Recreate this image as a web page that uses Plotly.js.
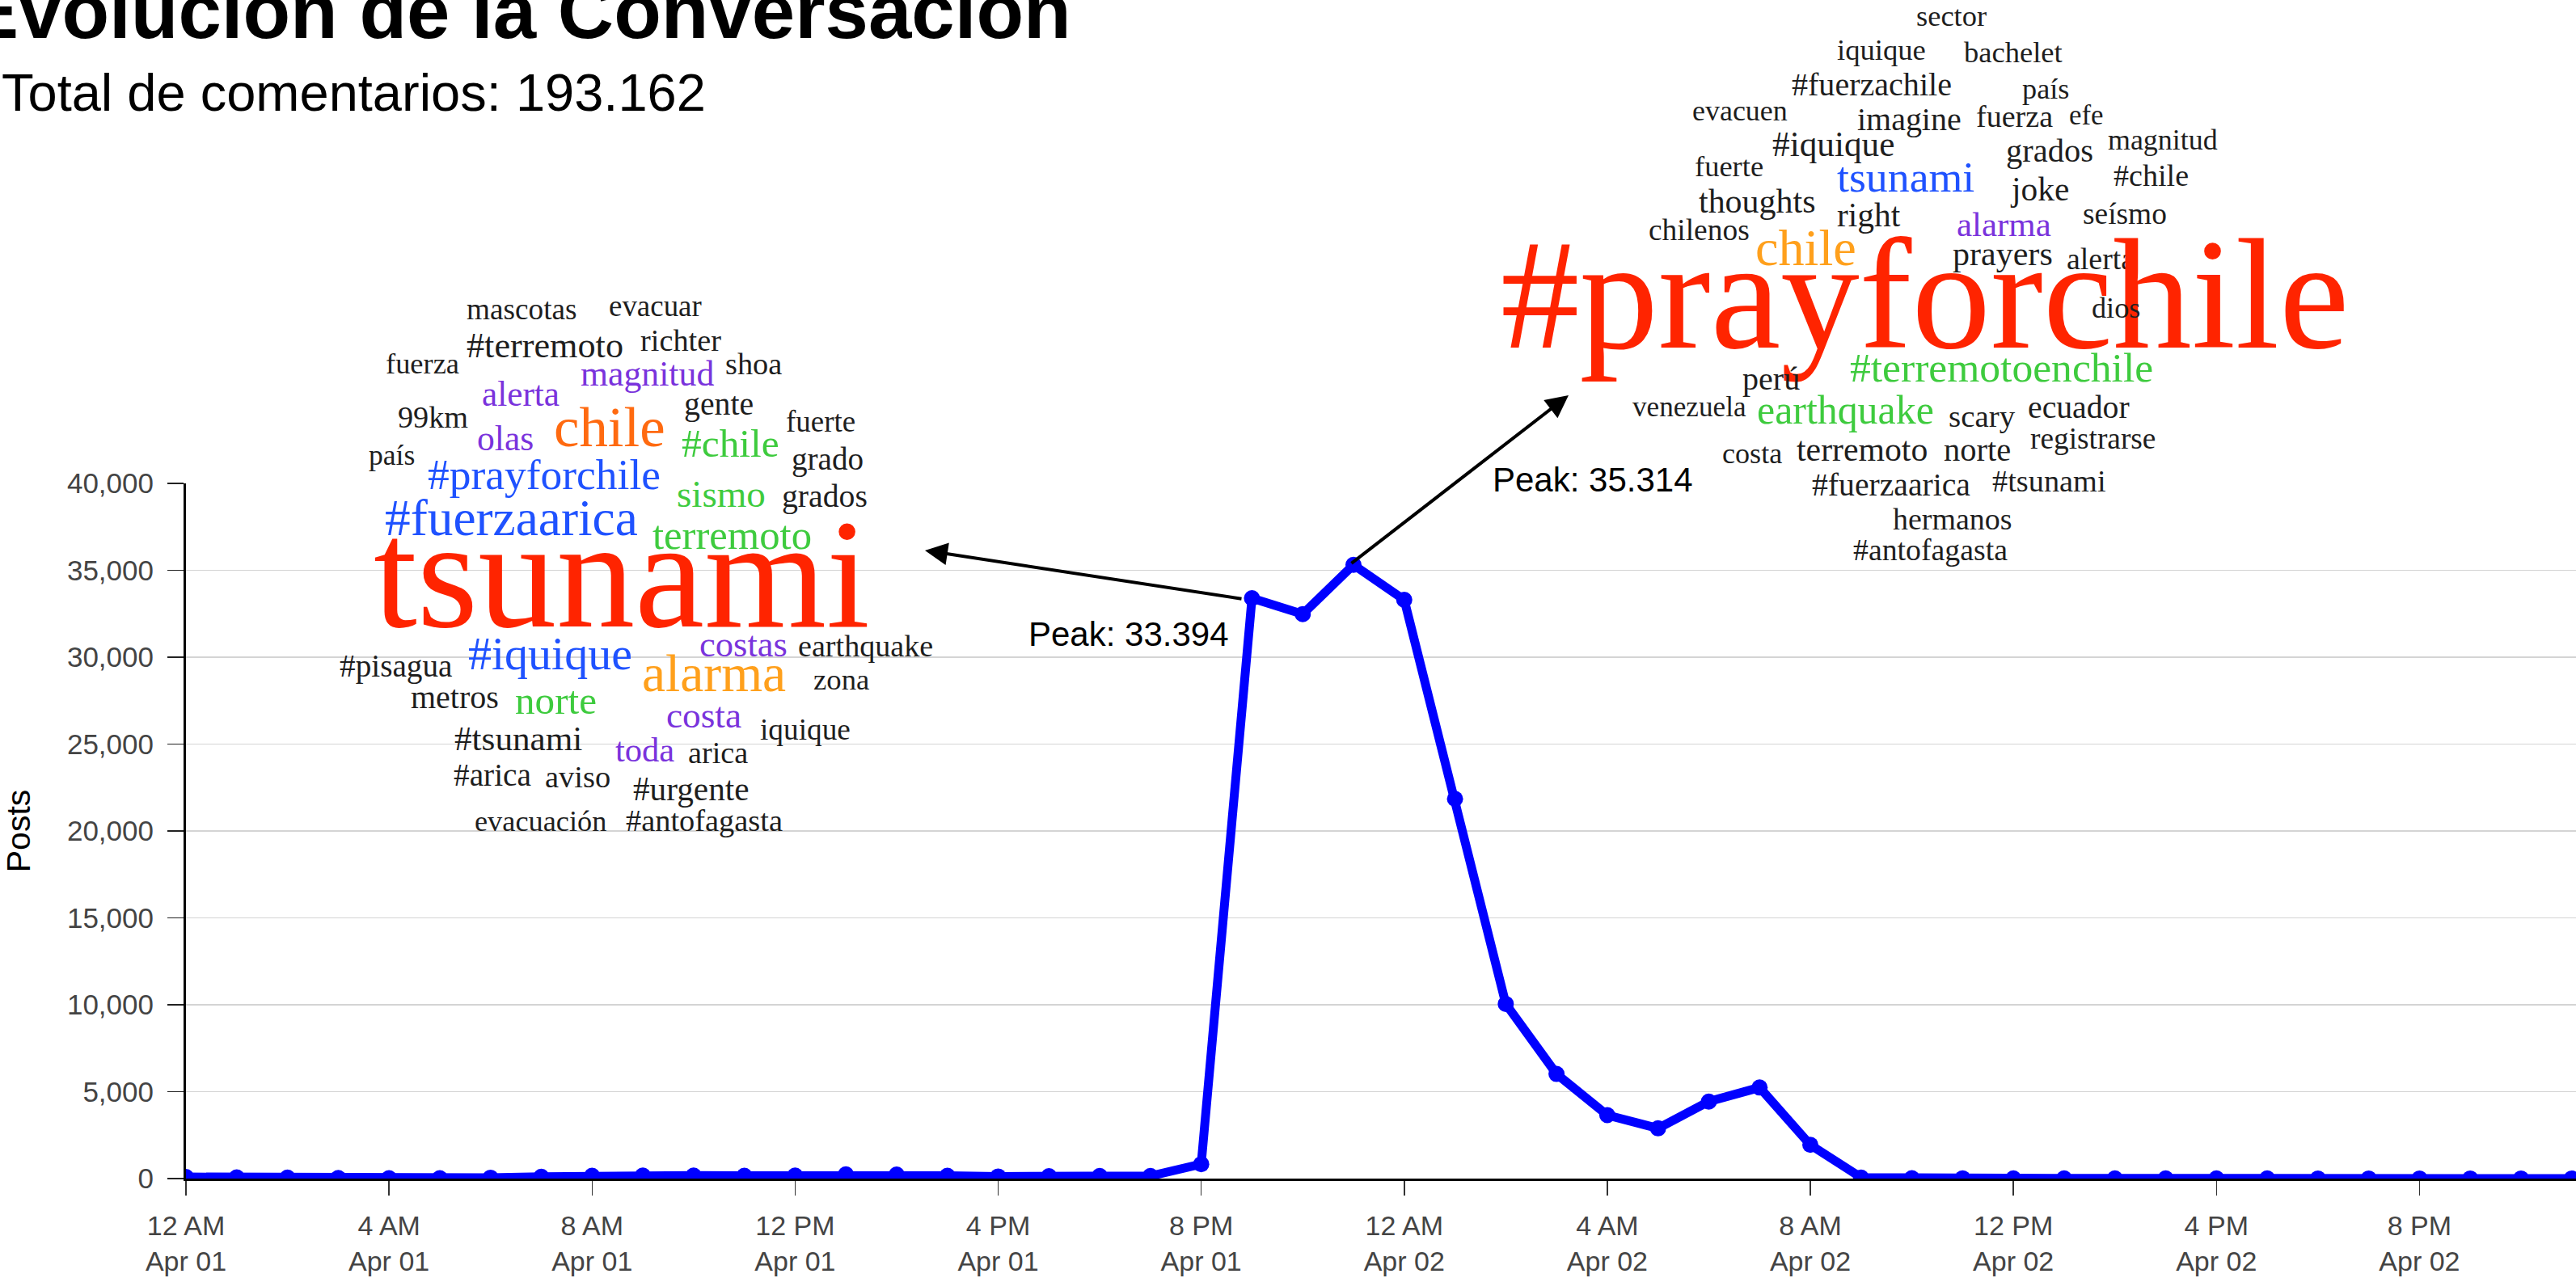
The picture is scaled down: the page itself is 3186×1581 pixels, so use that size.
<!DOCTYPE html>
<html>
<head>
<meta charset="utf-8">
<script src="https://cdn.plot.ly/plotly-3.0.1.min.js"></script>
<style>html,body{margin:0;padding:0;background:#fff;}#chart{width:3186px;height:1581px;}</style>
</head>
<body>
<div id="chart"></div>
<script>
// ---------------- DATA ----------------
const hours = [
 '2014-04-01 00:00','2014-04-01 01:00','2014-04-01 02:00','2014-04-01 03:00','2014-04-01 04:00','2014-04-01 05:00',
 '2014-04-01 06:00','2014-04-01 07:00','2014-04-01 08:00','2014-04-01 09:00','2014-04-01 10:00','2014-04-01 11:00',
 '2014-04-01 12:00','2014-04-01 13:00','2014-04-01 14:00','2014-04-01 15:00','2014-04-01 16:00','2014-04-01 17:00',
 '2014-04-01 18:00','2014-04-01 19:00','2014-04-01 20:00','2014-04-01 21:00','2014-04-01 22:00','2014-04-01 23:00',
 '2014-04-02 00:00','2014-04-02 01:00','2014-04-02 02:00','2014-04-02 03:00','2014-04-02 04:00','2014-04-02 05:00',
 '2014-04-02 06:00','2014-04-02 07:00','2014-04-02 08:00','2014-04-02 09:00','2014-04-02 10:00','2014-04-02 11:00',
 '2014-04-02 12:00','2014-04-02 13:00','2014-04-02 14:00','2014-04-02 15:00','2014-04-02 16:00','2014-04-02 17:00',
 '2014-04-02 18:00','2014-04-02 19:00','2014-04-02 20:00','2014-04-02 21:00','2014-04-02 22:00','2014-04-02 23:00'
];
const posts = [
 90, 70, 60, 30, 20, 25, 50, 100, 160, 170, 170, 165,
 170, 240, 230, 160, 120, 140, 150, 150, 830, 33394, 32480, 35314,
 33300, 21850, 10050, 6020, 3650, 2890, 4430, 5240, 1940, 60, 20, 15,
 10, 10, 8, 8, 6, 6, 5, 5, 4, 4, 3, 3
];
const titleText = 'Evolución de la Conversación';
const subtitleText = 'Total de comentarios: 193.162';
const yTitle = 'Posts';
const peakLabels = ['Peak: 33.394', 'Peak: 35.314'];

const cloud1Words = ['mascotas','evacuar','#terremoto','richter','fuerza','shoa','magnitud','alerta','99km','gente',
 'chile','olas','fuerte','#chile','país','grado','#prayforchile','sismo','grados','#fuerzaarica','terremoto','tsunami',
 '#pisagua','#iquique','costas','earthquake','alarma','zona','metros','norte','costa','iquique','#tsunami','toda',
 'arica','#arica','aviso','#urgente','evacuación','#antofagasta'];
const cloud2Words = ['sector','iquique','bachelet','#fuerzachile','país','evacuen','imagine','fuerza','efe','#iquique',
 'grados','magnitud','fuerte','tsunami','#chile','joke','thoughts','right','alarma','seísmo','chilenos','chile','prayers',
 'alerta','#prayforchile','dios','#terremotoenchile','perú','venezuela','earthquake','scary','ecuador','registrarse',
 'costa','terremoto','norte','#fuerzaarica','#tsunami','hermanos','#antofagasta'];

// ---------------- LAYOUT / STYLE ----------------
// word placement: [centre x px, baseline y px, width px, colour key]
const cloud1Place = [
 [645,395,138,'k'],[810,391,116,'k'],[674,442,196,'k'],[842,434,101,'k'],[522,462,92,'k'],[932,463,71,'k'],
 [800,477,167,'p'],[644,502,97,'p'],[535,529,88,'k'],[889,513,87,'k'],[754,552,139,'o1'],[625,557,71,'p'],
 [1015,534,87,'k'],[903,565,122,'g'],[484,575,58,'k'],[1023,581,90,'k'],[673,605,291,'b'],[892,627,111,'g'],
 [1020,627,107,'k'],[632,662,316,'b'],[905,679,199,'g'],[769,775,620,'r'],[490,837,141,'k'],[680,828,205,'b'],
 [919,812,110,'p'],[1070,812,169,'k'],[883,855,180,'o2'],[1040,853,70,'k'],[562,876,110,'k'],[687,883,102,'g'],
 [870,900,94,'p'],[996,915,113,'k'],[641,928,160,'k'],[797,942,74,'p'],[888,944,75,'k'],[609,972,97,'k'],
 [714,974,82,'k'],[855,990,145,'k'],[668,1028,165,'k'],[871,1028,196,'k']
];
const cloud2Place = [
 [2413,32,88,'k'],[2327,74,111,'k'],[2490,77,123,'k'],[2315,118,200,'k'],[2530,122,59,'k'],[2152,149,119,'k'],
 [2361,161,130,'k'],[2491,157,96,'k'],[2580,154,43,'k'],[2267,193,153,'k'],[2535,200,109,'k'],[2675,185,137,'k'],
 [2138,218,86,'k'],[2357,237,172,'b'],[2660,230,94,'k'],[2522,248,72,'k'],[2173,263,146,'k'],[2311,280,79,'k'],
 [2478,292,118,'p'],[2628,277,105,'k'],[2101,297,126,'k'],[2233,328,126,'o2'],[2477,328,125,'k'],[2598,333,85,'k'],
 [2380,430,1060,'r'],[2617,393,61,'k'],[2475,472,379,'g'],[2190,482,72,'k'],[2089,515,142,'k'],[2282,524,221,'g'],
 [2451,528,83,'k'],[2571,517,127,'k'],[2588,555,157,'k'],[2167,573,75,'k'],[2303,570,164,'k'],[2445,570,84,'k'],
 [2339,613,198,'k'],[2534,608,142,'k'],[2415,655,149,'k'],[2387,693,193,'k']
];
const palette = {k:'#1e1e1e', r:'#ff2400', b:'#1f52ff', g:'#3ecb3e', p:'#7a33dc', o1:'#ff6a10', o2:'#ffa01c'};

const W_PX = 3186, H_PX = 1581;
const L = 230, Rr = 3186, T = 598, B = 1458;
const PW = Rr - L, PH = B - T;
const px = X => (X - L) / PW;
const py = Y => (B - Y) / PH;

const SERIF = 'Liberation Serif';
const SANS = 'Liberation Sans, Arial, Helvetica, sans-serif';
const cv = document.createElement('canvas').getContext('2d');
function fitSize(txt, w) {
  cv.font = '100px "' + SERIF + '"';
  return 100 * w / cv.measureText(txt).width;
}

const annotations = [];
function addCloud(words, place) {
  words.forEach((w, i) => {
    const p = place[i];
    const F = fitSize(w, p[2]) * 0.99;
    annotations.push({
      xref: 'paper', yref: 'paper', x: px(p[0]), y: py(p[1] - 0.3375 * F),
      xanchor: 'center', yanchor: 'middle', showarrow: false, text: w, borderpad: 0,
      font: {family: SERIF, size: F, color: palette[p[3]]}
    });
  });
}
addCloud(cloud1Words, cloud1Place);
addCloud(cloud2Words, cloud2Place);

// title & subtitle
annotations.push({xref:'paper', yref:'paper', x: px(-43), y: py(47 - 0.3465*96), xanchor:'left', yanchor:'middle',
  showarrow:false, text:'<b>' + titleText + '</b>', font:{family:SANS, size:96, color:'#000'}});
annotations.push({xref:'paper', yref:'paper', x: px(0), y: py(137 - 0.3465*65), xanchor:'left', yanchor:'middle',
  showarrow:false, text: subtitleText, font:{family:SANS, size:65, color:'#000'}});

// peak labels
annotations.push({xref:'paper', yref:'paper', x: px(1522), y: py(799 - 0.3465*42), xanchor:'right', yanchor:'middle',
  showarrow:false, text: peakLabels[0], font:{family:SANS, size:42, color:'#000'}});
annotations.push({xref:'paper', yref:'paper', x: px(1844), y: py(608 - 0.3465*42), xanchor:'left', yanchor:'middle',
  showarrow:false, text: peakLabels[1], font:{family:SANS, size:42, color:'#000'}});

// arrows from peaks to clouds
annotations.push({xref:'paper', yref:'paper', x: px(1144), y: py(681), text:'', showarrow:true,
  axref:'pixel', ayref:'pixel', ax: 393, ay: 60, arrowhead:2, arrowsize:1.4, arrowwidth:4, arrowcolor:'#000'});
annotations.push({xref:'paper', yref:'paper', x: px(1940), y: py(489), text:'', showarrow:true,
  axref:'pixel', ayref:'pixel', ax: -270, ay: 209, arrowhead:2, arrowsize:1.4, arrowwidth:4, arrowcolor:'#000'});

const shapes = [
  {type:'rect', xref:'paper', yref:'paper', x0: px(396), x1: px(1168), y0: py(1045), y1: py(330),
   fillcolor:'#fff', line:{width:0}, layer:'between'},
  {type:'rect', xref:'paper', yref:'paper', x0: px(1830), x1: px(2926), y0: py(770), y1: py(0),
   fillcolor:'#fff', line:{width:0}, layer:'between'}
];

const trace = {
  type:'scatter', mode:'lines+markers', x: hours, y: posts,
  line:{color:'#0000ff', width:11}, marker:{color:'#0000ff', size:20},
  hoverinfo:'skip'
};

const layout = {
  width: W_PX, height: H_PX,
  margin:{l:L, r:W_PX - Rr, t:T, b:H_PX - B, pad:0},
  paper_bgcolor:'#fff', plot_bgcolor:'#fff',
  showlegend:false,
  font:{family:SANS, color:'#444'},
  xaxis:{
    type:'date', range:['2014-04-01 00:00','2014-04-02 23:05'],
    tick0:'2014-04-01 00:00', dtick: 4*3600*1000, tickformat:'%-I %p<br>%b %d',
    showgrid:false, zeroline:false, showline:true, linecolor:'#000', linewidth:3,
    ticks:'outside', ticklen:18, tickwidth:1.5, tickcolor:'#333',
    tickfont:{family:SANS, size:34, color:'#444'}, ticklabelstandoff:8, layer:'below traces'
  },
  yaxis:{
    range:[0,40000], dtick:5000, tickformat:',d',
    showgrid:true, gridcolor:'#d4d4d4', gridwidth:1.2, zeroline:false,
    showline:true, linecolor:'#000', linewidth:3,
    ticks:'outside', ticklen:20, tickwidth:1.5, tickcolor:'#222',
    tickfont:{family:SANS, size:35, color:'#444'}, ticklabelstandoff:10,
    title:{text:yTitle, font:{family:SANS, size:41, color:'#000'}, standoff:36}
  },
  annotations: annotations,
  shapes: shapes
};

Plotly.newPlot('chart', [trace], layout, {staticPlot:true, displayModeBar:false});
</script>
</body>
</html>
